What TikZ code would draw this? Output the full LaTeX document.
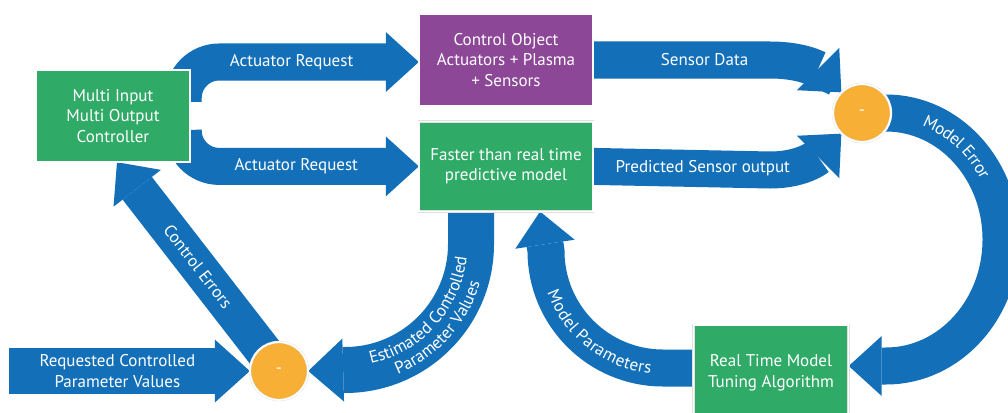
\documentclass[tikz,border=0pt]{standalone}
\usepackage{fontspec}
\usepackage{tikz}
\usetikzlibrary{arrows.meta,positioning,backgrounds,decorations.text}
\setmainfont{PT Sans}
\definecolor{flowcol}{RGB}{19,112,184}
\definecolor{unitcol}{RGB}{47,170,103}
\definecolor{plantcol}{RGB}{140,71,150}
\definecolor{sumcol}{RGB}{247,176,53}
\newcommand{\lblfont}{\fontsize{17}{20.5}\selectfont}

\begin{document}
\begin{tikzpicture}[
  x=1pt, y=-1pt,
  font=\lblfont,
  unit/.style={rectangle,draw=black!12,double=white,double distance=1.6pt,line width=.4pt,
    fill=unitcol,text=white,align=center,minimum width=154pt,minimum height=92pt,inner sep=2pt},
  plant/.style={unit,fill=plantcol},
  sum/.style={circle,draw=black!12,double=white,double distance=1.6pt,line width=.4pt,
    fill=sumcol,text=white,minimum size=58pt,inner sep=0pt},
  flow/.style={draw=flowcol,line width=37pt,
    -{Triangle[length=33pt 0 0,width=60pt 0 0,line width=0pt 0 0]}},
  wideflow/.style={flow,line width=46pt,
    -{Triangle[length=35pt 0 0,width=63pt 0 0,line width=0pt 0 0]}},
  lbl/.style={text=white,inner sep=0pt}]
\useasboundingbox (0,0) rectangle (1008,412);
\node[unit] (mimo) at (113,116) {Multi Input\\Multi Output\\Controller};
\node[plant,minimum width=174pt] (ctrl) at (506,60) {Control Object\\Actuators + Plasma\\+ Sensors};
\node[unit,minimum width=174pt,minimum height=90pt,below=15pt of ctrl] (fast) {Faster than real time\\predictive model};
\node[unit,minimum width=155pt,minimum height=96pt] (tune) at (771,373) {Real Time Model\\Tuning Algorithm};
\node[sum] (err1) at (862,113) {-};
\node[sum] (err2) at (279,371) {-};
\coordinate (src) at (9,371);
\begin{scope}[on background layer]
\fill[white] (0,0) rectangle (1008,412);
\draw[flow,rounded corners=36pt] ([xshift=-7pt]mimo.north east) ++(0,32) |- node[lbl,pos=.73]{Actuator Request} ([yshift=-2pt]ctrl.west);
\draw[flow,rounded corners=36pt] ([xshift=-7pt]mimo.south east) ++(0,-32) |- node[lbl,pos=.74]{Actuator Request} (fast.west);
\draw[flow] (ctrl.east) -- node[lbl,pos=.63]{Sensor Data} (770,60) .. controls (805,60) and (820,71) .. (err1.north west);
\draw[flow] (fast.east) -- node[lbl,pos=.62]{Predicted Sensor output} (770,170) .. controls (805,170) and (820,155) .. (err1.south west);
\draw[flow] (err1.center) -- (886,113) arc[start angle=-90,end angle=90,x radius=115,y radius=126.5] -- ([yshift=7pt]tune.east);
\draw[flow] ([yshift=5pt]tune.center) -- (663,368) arc[start angle=90,end angle=180,radius=117] -- ([xshift=34pt]fast.south);
\draw[wideflow] ([xshift=-35pt]fast.center) -- (471,244) arc[start angle=0,end angle=90,radius=126] -- (err2.east);
\draw[flow] (err2.center) -- node[lbl,sloped]{Control Errors} ([xshift=4pt]mimo.south);
\draw[wideflow] (src) -- node[lbl,pos=.45,align=center]{Requested Controlled\\Parameter Values} (err2.west);
% text along the curved arrows
\path[decorate,decoration={text along path,text align=center,raise=-6pt,
  text={|\lblfont\color{white}|Model Error}}] (876,113.5) arc[start angle=-95,end angle=-7,x radius=115,y radius=126.5];
\path[decorate,decoration={text along path,text align=center,raise=-6pt,
  text={|\lblfont\color{white}|Model Parameters}}] (547.8,271.3) arc[start angle=170,end angle=86,radius=117];
\path[decorate,decoration={text along path,text align=center,
  text={|\lblfont\color{white}|Estimated Controlled}}] (349.3,366.4) arc[start angle=88,end angle=-4,radius=122.5];
\path[decorate,decoration={text along path,text align=center,
  text={|\lblfont\color{white}|Parameter Values}}] (349.9,384.4) arc[start angle=88,end angle=-4,radius=140.5];
\end{scope}
\end{tikzpicture}
\end{document}
